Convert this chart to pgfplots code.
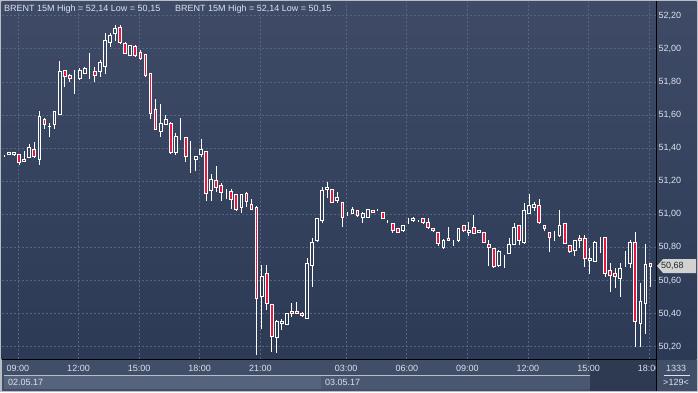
\documentclass[border=0pt]{standalone}
\usepackage{pgfplots}
\pgfplotsset{compat=1.18}
\usepackage{pgfplotstable}
\usepackage{fontspec}
\setmainfont{Liberation Sans}
\definecolor{bgtop}{HTML}{3F4B66}
\definecolor{bgbot}{HTML}{2C3A56}
\definecolor{gridc}{HTML}{58657F}
\definecolor{candred}{HTML}{E8173F}
\definecolor{txt}{HTML}{DCE3EE}
\definecolor{timerow}{HTML}{414E68}
\definecolor{daterowa}{HTML}{56637D}
\definecolor{daterowb}{HTML}{4A5771}
\definecolor{darkbox}{HTML}{2E3A52}
\definecolor{framec}{HTML}{B8BDC6}

\pgfplotstableread{
i o h l c
0 51.350 51.360 51.345 51.350
1 51.360 51.375 51.360 51.372
2 51.360 51.378 51.358 51.375
3 51.362 51.365 51.300 51.312
4 51.320 51.382 51.318 51.334
5 51.344 51.425 51.340 51.405
6 51.393 51.437 51.345 51.348
7 51.332 51.626 51.298 51.590
8 51.574 51.580 51.517 51.544
9 51.530 51.550 51.469 51.529
10 51.544 51.625 51.517 51.622
11 51.606 51.928 51.600 51.866
12 51.868 51.870 51.771 51.831
13 51.840 51.845 51.800 51.822
14 51.810 51.872 51.727 51.810
15 51.819 51.882 51.815 51.872
16 51.852 51.890 51.850 51.884
17 51.872 51.975 51.816 51.872
18 51.866 51.892 51.800 51.840
19 51.862 51.932 51.831 51.916
20 51.892 52.097 51.848 52.053
21 52.037 52.097 52.013 52.083
22 52.094 52.144 52.049 52.124
23 52.130 52.144 52.035 52.037
24 52.033 52.040 51.970 51.973
25 51.961 52.025 51.955 52.021
26 52.013 52.020 51.950 51.961
27 51.975 51.993 51.932 51.943
28 51.963 51.965 51.831 51.840
29 51.852 51.855 51.574 51.610
30 51.634 51.695 51.510 51.514
31 51.501 51.666 51.469 51.550
32 51.544 51.600 51.540 51.576
33 51.550 51.555 51.365 51.372
34 51.376 51.489 51.358 51.473
35 51.469 51.580 51.449 51.469
36 51.465 51.470 51.318 51.348
37 51.342 51.443 51.251 51.342
38 51.332 51.350 51.263 51.348
39 51.363 51.453 51.348 51.393
40 51.378 51.380 51.082 51.127
41 51.147 51.243 51.082 51.211
42 51.207 51.292 51.137 51.163
43 51.177 51.187 51.082 51.133
44 51.123 51.151 51.091 51.123
45 51.137 51.150 51.030 51.091
46 51.117 51.120 51.022 51.030
47 51.042 51.120 51.010 51.117
48 51.123 51.137 51.042 51.076
49 51.060 51.091 51.025 51.030
50 51.042 51.050 50.150 50.492
51 50.502 50.694 50.307 50.627
52 50.643 50.694 50.422 50.462
53 50.456 50.460 50.170 50.260
54 50.254 50.360 50.164 50.355
55 50.339 50.367 50.300 50.355
56 50.335 50.405 50.333 50.399
57 50.416 50.462 50.381 50.402
58 50.416 50.470 50.400 50.402
59 50.398 50.410 50.385 50.386
60 50.372 50.738 50.370 50.704
61 50.689 50.859 50.563 50.831
62 50.840 50.980 50.835 50.976
63 50.961 51.167 50.949 51.147
64 51.151 51.197 51.097 51.165
65 51.151 51.155 51.070 51.072
66 51.082 51.137 51.070 51.103
67 51.072 51.075 50.921 50.982
68 50.996 51.016 50.990 50.996
69 51.006 51.045 51.000 51.032
70 51.022 51.025 50.990 50.992
71 50.982 51.016 50.949 51.006
72 50.982 51.035 50.980 51.030
73 51.022 51.025 51.010 51.012
74 51.026 51.035 51.020 51.026
75 51.012 51.015 50.974 50.976
76 50.961 50.965 50.949 50.961
77 50.946 50.950 50.889 50.901
78 50.915 50.918 50.889 50.891
79 50.901 50.938 50.898 50.935
80 50.946 50.976 50.940 50.946
81 50.961 50.985 50.958 50.976
82 50.961 50.965 50.955 50.961
83 50.976 50.979 50.947 50.949
84 50.949 50.976 50.917 50.919
85 50.915 50.918 50.899 50.901
86 50.893 50.896 50.810 50.822
87 50.798 50.848 50.796 50.845
88 50.855 50.925 50.841 50.843
89 50.835 50.845 50.810 50.835
90 50.840 50.920 50.838 50.915
91 50.933 50.936 50.899 50.901
92 50.891 50.953 50.871 50.905
93 50.921 50.996 50.883 50.885
94 50.891 50.908 50.889 50.905
95 50.891 50.895 50.829 50.831
96 50.815 50.845 50.689 50.801
97 50.795 50.798 50.674 50.684
98 50.689 50.782 50.686 50.778
99 50.750 50.752 50.674 50.750
100 50.764 50.855 50.762 50.815
101 50.820 50.945 50.818 50.921
102 50.931 50.935 50.815 50.840
103 50.829 51.070 50.825 51.026
104 51.006 51.123 51.004 51.056
105 51.042 51.072 51.022 51.062
106 51.056 51.091 50.941 50.949
107 50.933 50.936 50.901 50.913
108 50.891 50.894 50.774 50.861
109 50.855 50.901 50.840 50.855
110 50.871 51.026 50.869 50.935
111 50.946 50.949 50.823 50.825
112 50.813 50.816 50.772 50.774
113 50.780 50.845 50.748 50.843
114 50.855 50.875 50.795 50.840
115 50.855 50.875 50.682 50.734
116 50.720 50.795 50.640 50.734
117 50.718 50.839 50.716 50.832
118 50.843 50.862 50.764 50.843
119 50.861 50.864 50.623 50.643
120 50.663 50.704 50.532 50.633
121 50.643 50.674 50.553 50.627
122 50.613 50.704 50.502 50.674
123 50.688 50.780 50.686 50.688
124 50.704 50.842 50.674 50.828
125 50.832 50.893 50.200 50.351
126 50.341 50.585 50.200 50.472
127 50.462 50.820 50.279 50.694
128 50.704 50.706 50.563 50.684
}\candles

\begin{document}
\fontsize{9}{10.5}\selectfont
\begin{tikzpicture}[x=1pt,y=1pt]
% outer frame and backgrounds
\fill[framec] (0,0) rectangle (698,392);
\shade[top color=bgtop,bottom color=bgbot] (1.5,33) rectangle (696.5,390.5);
\fill[timerow] (1.5,17) rectangle (656,33);
\fill[daterowa] (4,3) rectangle (321,16);
\fill[daterowb] (321,3) rectangle (590,16);
\fill[timerow] (1.5,1.5) rectangle (4,17);
\fill[darkbox] (590,1.5) rectangle (656,33);
\fill[timerow] (321,1.5) rectangle (590,3);
\fill[timerow] (4,1.5) rectangle (321,3);

\begin{axis}[
  at={(2pt,33pt)}, anchor=south west,
  scale only axis, width=654pt, height=357pt,
  xmin=-0.4, xmax=129.1, ymin=50.1257, ymax=52.2828,
  axis line style={draw=none},
  major tick length=0pt,
  xtick={2.75,14.75,26.75,38.75,50.75,67.75,79.75,91.75,103.75,115.75,127.75},
  xticklabels={09:00,12:00,15:00,18:00,21:00,03:00,06:00,09:00,12:00,15:00,18:00},
  ytick={50.2,50.4,50.6,50.8,51,51.2,51.4,51.6,51.8,52,52.2},
  yticklabels={{50,20},{50,40},{50,60},{50,80},{51,00},{51,20},{51,40},{51,60},{51,80},{52,00},{52,20}},
  yticklabel pos=right,
  xmajorgrids, ymajorgrids,
  grid style={gridc, dash pattern=on 2pt off 2pt, line width=0.8pt},
  ticklabel style={font=\fontsize{9}{10.5}\selectfont, text=txt, inner sep=0pt},
  xticklabel style={anchor=base, yshift=-12pt},
  yticklabel style={anchor=west, xshift=2.5pt},
]
% upper wicks
\addplot[draw=none, mark=none, forget plot,
  error bars/.cd, y dir=plus, y explicit, error mark=none,
  error bar style={draw=white, line width=0.9pt, solid}]
  table[x=i, y expr={max(\thisrow{o},\thisrow{c})},
        y error plus expr={\thisrow{h}-max(\thisrow{o},\thisrow{c})}] {\candles};
% lower wicks
\addplot[draw=none, mark=none, forget plot,
  error bars/.cd, y dir=minus, y explicit, error mark=none,
  error bar style={draw=white, line width=0.9pt, solid}]
  table[x=i, y expr={min(\thisrow{o},\thisrow{c})},
        y error minus expr={min(\thisrow{o},\thisrow{c})-\thisrow{l}}] {\candles};
\end{axis}

\begin{axis}[
  at={(2pt,33pt)}, anchor=south west,
  scale only axis, width=654pt, height=357pt,
  xmin=-0.4, xmax=129.1, ymin=50.1257, ymax=52.2828,
  hide axis,
  ybar stacked, bar width=2.8pt,
]
\addplot[draw=none, fill=none] table[x=i, y expr={min(\thisrow{o},\thisrow{c})}] {\candles};
\addplot[draw=white, fill=none, line width=0.9pt] table[x=i, y expr={max(\thisrow{c}-\thisrow{o},0)}] {\candles};
\addplot[draw=white, fill=candred, line width=0.9pt] table[x=i, y expr={max(\thisrow{o}-\thisrow{c},0)}] {\candles};
\end{axis}

% separator lines
\draw[black, line width=1pt] (656,1.5) -- (656,390.5);
\draw[black, line width=1pt] (1.5,33) -- (656,33);
% bottom-right cell
\fill[timerow] (656.5,1.5) rectangle (696.5,32.5);
\draw[txt, line width=0.6pt] (664,16.5) -- (690,16.5);
\node[text=txt, inner sep=0pt, anchor=base] at (676,21) {1333};
\node[text=txt, inner sep=0pt, anchor=base] at (676,7) {>129<};
% dates
\node[text=txt, inner sep=0pt, anchor=base west] at (8,6.5) {02.05.17};
\node[text=txt, inner sep=0pt, anchor=base west] at (325,6.5) {03.05.17};
% titles
\node[text=txt, inner sep=0pt, anchor=base west] at (4,380) {BRENT 15M High = 52,14 Low = 50,15};
\node[text=txt, inner sep=0pt, anchor=base west] at (175,380) {BRENT 15M High = 52,14 Low = 50,15};
% last price tag
\fill[gray!35] (657,126) -- (663,133) -- (696,133) -- (696,119) -- (663,119) -- cycle;
\node[text=black!85, inner sep=0pt, anchor=west] at (661,126) {50,68};
\end{tikzpicture}
\end{document}
